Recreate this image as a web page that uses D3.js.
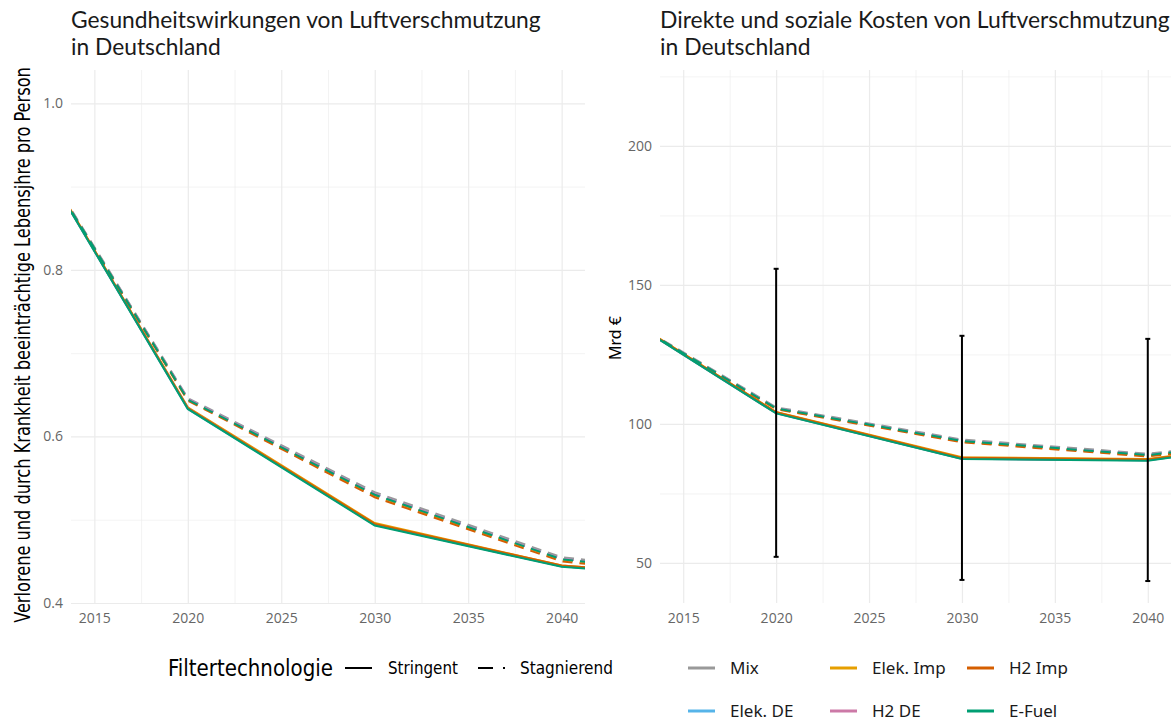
<!DOCTYPE html>
<html lang="de">
<head>
    <meta charset="UTF-8" />
    <title>Luftverschmutzung in Deutschland</title>
    <script src="https://d3js.org/d3.v7.min.js"></script>
    <style>
        body { margin: 0; background: #fff; }
        .grid line { stroke: #ebebeb; }
        .grid .domain { display: none; }
        .tick-lbl text { fill: #666; font-family: "Open Sans", sans-serif; font-size: 14px; }
        .tick-lbl .domain, .tick-lbl line { display: none; }
        .cond { font-family: "DejaVu Sans Condensed", "Liberation Sans Narrow", "DejaVu Sans", sans-serif; font-stretch: condensed; }
    </style>
</head>
<body>
<script>
    // Jahre der Modellpunkte (Linien werden am Panelrand abgeschnitten)
    const years = [2010, 2020, 2030, 2040, 2050];
    const techs = ["Mix", "Elek. DE", "Elek. Imp", "H2 DE", "H2 Imp", "E-Fuel"];
    const techColors = ["#999999", "#56B4E9", "#E69F00", "#CC79A7", "#D55E00", "#009E73"];
    const filters = ["Stringent", "Stagnierend"];

    // Gesundheitswirkungen (Lebensjahre pro Person), Reihenfolge wie techs
    const healthStringent = [
        [1.012, 0.634, 0.494, 0.444, 0.428],
        [1.012, 0.633, 0.494, 0.444, 0.428],
        [1.013, 0.635, 0.496, 0.445, 0.429],
        [1.012, 0.634, 0.494, 0.444, 0.428],
        [1.013, 0.634, 0.495, 0.445, 0.429],
        [1.012, 0.633, 0.493, 0.4435, 0.428]
    ];
    const healthStagnierend = [
        [1.009, 0.646, 0.533, 0.455, 0.431],
        [1.008, 0.645, 0.531, 0.453, 0.430],
        [1.008, 0.644, 0.529, 0.452, 0.429],
        [1.008, 0.645, 0.531, 0.453, 0.430],
        [1.007, 0.643, 0.527, 0.450, 0.427],
        [1.008, 0.644, 0.530, 0.4525, 0.429]
    ];

    // Kosten (Mrd €)
    const costStringent = [
        [146.0, 104.0, 87.6, 87.0, 95.8],
        [146.0, 103.9, 87.5, 86.9, 95.7],
        [146.3, 104.3, 88.0, 87.4, 96.2],
        [146.0, 103.9, 87.5, 86.9, 95.7],
        [146.2, 104.2, 87.8, 87.2, 96.0],
        [146.0, 103.8, 87.4, 86.8, 95.6]
    ];
    const costStagnierend = [
        [145.6, 106.0, 94.4, 89.3, 96.4],
        [145.4, 105.7, 94.0, 88.9, 96.1],
        [145.4, 105.5, 93.7, 88.6, 95.8],
        [145.4, 105.7, 94.0, 88.9, 96.1],
        [145.3, 105.3, 93.4, 88.3, 95.6],
        [145.4, 105.6, 93.9, 88.8, 96.0]
    ];

    // Fehlerbalken Kosten
    const errYears = [2020, 2030, 2040];
    const errLow = [52.2, 43.9, 43.5];
    const errHigh = [155.8, 131.7, 130.6];

    const xTicks = [2015, 2020, 2025, 2030, 2035, 2040];
    const xMinor = [2017.5, 2022.5, 2027.5, 2032.5, 2037.5];
    const healthTicks = [0.4, 0.6, 0.8, 1.0];
    const healthMinor = [0.5, 0.7, 0.9];
    const costTicks = [50, 100, 150, 200];
    const costMinor = [75, 125, 175, 225];

    const width = 1176, height = 721;
    const plotTop = 70, plotBottom = 603;

    const svg = d3.select("body").append("svg")
        .attr("width", width)
        .attr("height", height);

    // Text auf eine Breite bringen (Schriftgrösse anpassen)
    function fitSize(sel, w) {
        const l = sel.node().getComputedTextLength();
        const fs = parseFloat(sel.attr("font-size"));
        const nfs = fs * w / l;
        sel.attr("font-size", nfs);
        return nfs;
    }

    // schmale Schrift nachbilden: horizontal stauchen
    function squeeze(sel, w, base) {
        const l = sel.node().getComputedTextLength();
        sel.attr("transform", `${base} scale(${w / l},1)`);
    }

    function panel(opt) {
        const x = d3.scaleLinear().domain([2013.75, 2041.25]).range([opt.left, opt.right]);
        const y = d3.scaleLinear().domain(opt.yDomain).range([plotBottom, plotTop]);
        const g = svg.append("g");
        const h = plotBottom - plotTop;

        // Gitter
        g.append("g").attr("class", "grid")
            .attr("transform", `translate(0,${plotBottom})`)
            .call(d3.axisBottom(x).tickValues(xMinor).tickSize(-h).tickFormat(""))
            .selectAll("line").attr("stroke-width", 0.6);
        g.append("g").attr("class", "grid")
            .attr("transform", `translate(${opt.left},0)`)
            .call(d3.axisLeft(y).tickValues(opt.yMinor.filter(v => y(v) > plotTop)).tickSize(-(opt.right - opt.left)).tickFormat(""))
            .selectAll("line").attr("stroke-width", 0.6);
        g.append("g").attr("class", "grid")
            .attr("transform", `translate(0,${plotBottom})`)
            .call(d3.axisBottom(x).tickValues(xTicks).tickSize(-h).tickFormat(""))
            .selectAll("line").attr("stroke-width", 1.2);
        g.append("g").attr("class", "grid")
            .attr("transform", `translate(${opt.left},0)`)
            .call(d3.axisLeft(y).tickValues(opt.yTicks).tickSize(-(opt.right - opt.left)).tickFormat(""))
            .selectAll("line").attr("stroke-width", 1.2);

        // Achsenbeschriftungen
        g.append("g").attr("class", "tick-lbl")
            .attr("transform", `translate(0,${plotBottom})`)
            .call(d3.axisBottom(x).tickValues(xTicks).tickSize(0).tickPadding(10).tickFormat(d3.format("d")));
        g.append("g").attr("class", "tick-lbl")
            .attr("transform", `translate(${opt.left},0)`)
            .call(d3.axisLeft(y).tickValues(opt.yTicks).tickSize(0).tickPadding(8).tickFormat(opt.fmt));

        // Linien
        const clipId = "clip" + opt.left;
        svg.append("clipPath").attr("id", clipId)
            .append("rect")
            .attr("x", opt.left).attr("y", plotTop)
            .attr("width", opt.right - opt.left).attr("height", h);
        const lines = g.append("g").attr("clip-path", `url(#${clipId})`);
        const line = d3.line().x((d, i) => x(years[i])).y(d => y(d));
        techs.forEach((t, k) => {
            lines.append("path")
                .attr("d", line(opt.stag[k]))
                .attr("fill", "none")
                .attr("stroke", techColors[k])
                .attr("stroke-width", 2)
                .attr("stroke-dasharray", "10,7");
            lines.append("path")
                .attr("d", line(opt.strg[k]))
                .attr("fill", "none")
                .attr("stroke", techColors[k])
                .attr("stroke-width", 2);
        });

        // Titel
        const t1 = g.append("text")
            .attr("x", opt.left).attr("y", 28)
            .attr("font-family", "Lato, sans-serif")
            .attr("font-size", 21).attr("fill", "#1a1a1a")
            .text(opt.title[0]);
        const fs = fitSize(t1, opt.titleW);
        g.append("text")
            .attr("x", opt.left).attr("y", 55)
            .attr("font-family", "Lato, sans-serif")
            .attr("font-size", fs).attr("fill", "#1a1a1a")
            .text(opt.title[1]);

        return { x, y, g };
    }

    const leftPanel = panel({
        left: 71, right: 585,
        yDomain: [0.4, 1.04],
        yTicks: healthTicks, yMinor: healthMinor,
        fmt: d3.format(".1f"),
        strg: healthStringent, stag: healthStagnierend,
        title: ["Gesundheitswirkungen von Luftverschmutzung", "in Deutschland"],
        titleW: 470
    });

    const rightPanel = panel({
        left: 660, right: 1171,
        yDomain: [35.6, 227.3],
        yTicks: costTicks, yMinor: costMinor,
        fmt: d3.format("d"),
        strg: costStringent, stag: costStagnierend,
        title: ["Direkte und soziale Kosten von Luftverschmutzung", "in Deutschland"],
        titleW: 510
    });

    // Fehlerbalken
    errYears.forEach((yr, i) => {
        const ex = rightPanel.x(yr);
        rightPanel.g.append("line")
            .attr("x1", ex).attr("x2", ex)
            .attr("y1", rightPanel.y(errLow[i])).attr("y2", rightPanel.y(errHigh[i]))
            .attr("stroke", "#000").attr("stroke-width", 2);
        [errLow[i], errHigh[i]].forEach(v => {
            rightPanel.g.append("line")
                .attr("x1", ex - 2.5).attr("x2", ex + 2.5)
                .attr("y1", rightPanel.y(v)).attr("y2", rightPanel.y(v))
                .attr("stroke", "#000").attr("stroke-width", 2);
        });
    });

    // y-Achsentitel
    const yLab = svg.append("text")
        .attr("class", "cond")
        .attr("text-anchor", "middle")
        .attr("font-size", 22).attr("fill", "#000")
        .text("Verlorene und durch Krankheit beeinträchtige Lebensjhre pro Person");
    squeeze(yLab, 556, "translate(30,345) rotate(-90)");
    svg.append("text")
        .attr("transform", "translate(621,338) rotate(-90)")
        .attr("text-anchor", "middle")
        .attr("font-family", "'Noto Sans', sans-serif")
        .attr("font-size", 16).attr("fill", "#000")
        .text("Mrd €");

    // Legende Filtertechnologie
    const lg = svg.append("g");
    const lgTitle = lg.append("text").attr("class", "cond")
        .attr("font-size", 23).attr("fill", "#000")
        .text("Filtertechnologie");
    squeeze(lgTitle, 165, "translate(168,676)");
    const fKeys = [
        { x1: 345, tx: 388, tw: 70, dash: null },
        { x1: 478, tx: 520, tw: 93, dash: "15,10" }
    ];
    filters.forEach((f, i) => {
        const k = fKeys[i];
        lg.append("line")
            .attr("x1", k.x1).attr("x2", k.x1 + 27)
            .attr("y1", 668).attr("y2", 668)
            .attr("stroke", "#000").attr("stroke-width", 2)
            .attr("stroke-dasharray", k.dash);
        const lt = lg.append("text").attr("class", "cond")
            .attr("font-size", 18).attr("fill", "#000")
            .text(f);
        squeeze(lt, k.tw, `translate(${k.tx},674)`);
    });

    // Legende Technologien (2 Zeilen, spaltenweise gefüllt)
    const colX = [688, 830, 967];
    const rowY = [668, 711];
    techs.forEach((t, i) => {
        const cx = colX[Math.floor(i / 2)];
        const cy = rowY[i % 2];
        svg.append("line")
            .attr("x1", cx).attr("x2", cx + 27)
            .attr("y1", cy).attr("y2", cy)
            .attr("stroke", techColors[i]).attr("stroke-width", 3);
        svg.append("text")
            .attr("x", cx + 42).attr("y", cy + 6)
            .attr("font-family", "'Noto Sans', sans-serif")
            .attr("font-size", 17).attr("fill", "#1a1a1a")
            .text(t);
    });
</script>
</body>
</html>
